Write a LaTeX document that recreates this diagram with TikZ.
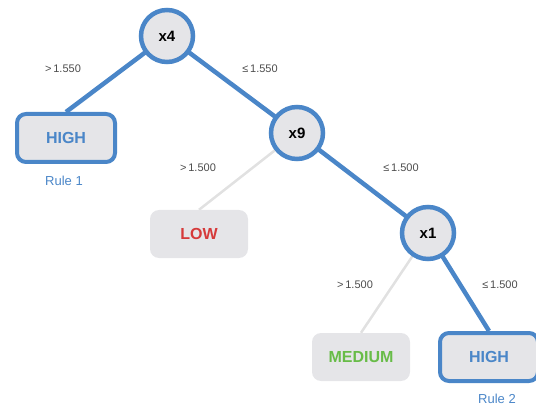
\documentclass[tikz,border=0pt]{standalone}
\usepackage{fontspec}
\setmainfont{Liberation Sans}
\usetikzlibrary{backgrounds}
\begin{document}
\begin{tikzpicture}[x=1pt,y=-1pt,
  split/.style={circle,draw=pathblue,line width=4.5pt,fill=nodegrey,minimum size=52pt,inner sep=0pt,font=\fontsize{15}{15}\selectfont\bfseries},
  leaf/.style={rounded corners=9pt,fill=nodegrey,minimum width=98pt,minimum height=48pt,inner sep=0pt,font=\fontsize{16}{16}\selectfont\bfseries},
  ruleleaf/.style={leaf,draw=pathblue,line width=4pt,text=pathblue},
  onpath/.style={draw=pathblue,line width=4.5pt},
  offpath/.style={draw=edgegrey,line width=2.5pt},
  cond/.style={font=\fontsize{11}{12}\selectfont,text=black!70},
  rulename/.style={font=\fontsize{13}{14}\selectfont,text=pathblue}]
\definecolor{pathblue}{RGB}{74,134,200}
\definecolor{nodegrey}{RGB}{229,229,232}
\definecolor{edgegrey}{RGB}{225,225,225}
\definecolor{lowred}{RGB}{214,58,58}
\definecolor{medgreen}{RGB}{104,188,72}
\useasboundingbox (0,0) rectangle (536,409);

% split nodes
\node[split] (x4) at (167,36) {x4};
\node[split] (x9) at (297,133) {x9};
\node[split] (x1) at (428,233) {x1};

% leaves
\node[ruleleaf] (high1) at (66,138) {HIGH};
\node[leaf,text=lowred] (low) at (199,234) {LOW};
\node[leaf,text=medgreen] (medium) at (361,357) {MEDIUM};
\node[ruleleaf] (high2) at (489,357) {HIGH};

% edges, behind the nodes; each ends at the top middle of its child
\begin{scope}[on background layer]
\path[onpath] (x4.center) -- (high1.north);
\path[onpath] (x4.center) -- (x9.center);
\path[offpath] (x9.center) -- (low.north);
\path[onpath] (x9.center) -- (x1.center);
\path[offpath] (x1.center) -- (medium.north);
\path[onpath] (x1.center) -- (high2.north);
\end{scope}

% conditions
\node[cond] (c1) at (63,69) {>\,1.550};
\node[cond] (c2) at (260,69) {≤\,1.550};
\node[cond] (c3) at (198,168) {>\,1.500};
\node[cond] (c4) at (401,168) {≤\,1.500};
\node[cond] (c5) at (355,285) {>\,1.500};
\node[cond] (c6) at (500,285) {≤\,1.500};

% rule names
\node[rulename] (r1) at (64,181) {Rule 1};
\node[rulename] (r2) at (497,399) {Rule 2};
\end{tikzpicture}
\end{document}
